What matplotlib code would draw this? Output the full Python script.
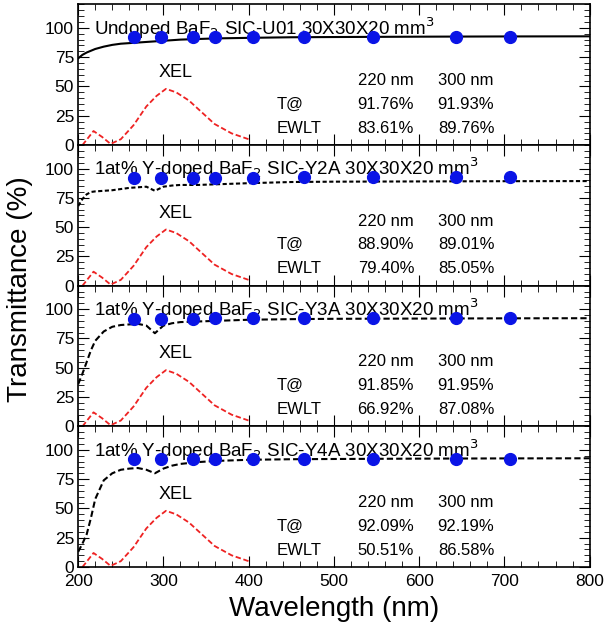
"""Transmittance of undoped and Y-doped BaF2 crystals with XEL spectrum."""

import matplotlib
matplotlib.use("Agg")

import matplotlib.pyplot as plt
from matplotlib.ticker import MultipleLocator

plt.rcParams["font.family"] = ["Liberation Sans", "DejaVu Sans"]

# longitudinal transmittance curves (nm, %)
wl_curve = [200, 205, 210, 215, 220, 230, 240, 250, 260, 270, 280, 290, 300,
            310, 320, 340, 360, 400, 450, 500, 600, 700, 800]
t_u01 = [74, 77, 79, 80.5, 82, 84, 85.5, 86.5, 87, 87.5, 88, 88.5, 89,
         89.5, 90, 90.5, 91, 91.5, 92, 92.2, 92.5, 92.7, 92.8]
t_y2a = [68, 74, 78, 80, 80.5, 81, 81.5, 82.5, 83.5, 84, 84.5, 81, 84.5,
         85.5, 86, 86, 86.5, 87.5, 88.5, 88.8, 89, 89.2, 89.3]
t_y3a = [36, 45, 55, 65, 73, 81, 85, 86.5, 87, 87.5, 86, 79.5, 86,
         88, 89, 89.5, 90, 91, 91.5, 91.8, 92, 92.2, 92.3]
t_y4a = [13, 20, 28, 42, 58, 74, 80, 83, 84, 84.5, 83, 80, 84,
         86.5, 88, 89.5, 90.5, 91.5, 92, 92.2, 92.5, 92.7, 92.8]

# discrete measurement points
wl_dots = [265, 297, 335, 360, 405, 465, 546, 643, 706]
d_u01 = [92, 92, 92, 92, 92, 92, 92, 92, 92]
d_y2a = [92, 92, 92, 92, 92, 92.5, 92.5, 92.5, 92.5]
d_y3a = [92, 92, 92, 92.5, 92.5, 92.5, 92.5, 92.5, 92.5]
d_y4a = [92, 92, 92, 92.5, 92.5, 92.5, 92.5, 92.5, 92.5]

# x-ray excited luminescence (arb.)
wl_xel = [205, 218, 228, 238, 250, 265, 280, 292, 303, 315, 330, 345, 360, 380, 400]
xel = [0, 12, 7, 1, 5, 17, 33, 42, 48, 45, 38, 28, 18, 10, 5]

labels = [
    "Undoped BaF$_2$ SIC-U01 30X30X20 mm$^3$",
    "1at% Y-doped BaF$_2$ SIC-Y2A 30X30X20 mm$^3$",
    "1at% Y-doped BaF$_2$ SIC-Y3A 30X30X20 mm$^3$",
    "1at% Y-doped BaF$_2$ SIC-Y4A 30X30X20 mm$^3$",
]
t_at = [("91.76%", "91.93%"), ("88.90%", "89.01%"),
        ("91.85%", "91.95%"), ("92.09%", "92.19%")]
ewlt = [("83.61%", "89.76%"), ("79.40%", "85.05%"),
        ("66.92%", "87.08%"), ("50.51%", "86.58%")]

curves = [t_u01, t_y2a, t_y3a, t_y4a]
dots = [d_u01, d_y2a, d_y3a, d_y4a]
styles = ["-", (0, (2, 1.2)), (0, (3, 1.5)), (0, (3, 1.5))]

fig, axes = plt.subplots(4, 1, sharex=True, figsize=(6.06, 6.35), dpi=100)
fig.subplots_adjust(left=0.129, right=0.973, bottom=0.107, top=0.993, hspace=0)

for i, ax in enumerate(axes):
    ax.plot(wl_curve, curves[i], color="black", linestyle=styles[i], linewidth=1.5)
    ax.plot(wl_xel, xel, color="#ee2222", linestyle=(0, (3, 1.5)), linewidth=1.3)
    ax.plot(wl_dots, dots[i], "o", color="#0a14e6", markersize=8.5, zorder=5)

    ax.text(218, 100, labels[i], fontsize=13.5, va="center", ha="left")
    ax.text(314, 62, "XEL", fontsize=13, ha="center", va="center")
    ax.text(561, 55, "220 nm", fontsize=12, ha="center", va="center")
    ax.text(655, 55, "300 nm", fontsize=12, ha="center", va="center")
    ax.text(433, 35, "T@", fontsize=12, ha="left", va="center")
    ax.text(561, 35, t_at[i][0], fontsize=12, ha="center", va="center")
    ax.text(655, 35, t_at[i][1], fontsize=12, ha="center", va="center")
    ax.text(433, 14.5, "EWLT", fontsize=12, ha="left", va="center")
    ax.text(561, 14.5, ewlt[i][0], fontsize=12, ha="center", va="center")
    ax.text(655, 14.5, ewlt[i][1], fontsize=12, ha="center", va="center")

    ax.set_xlim(200, 800)
    ax.set_ylim(0, 120)
    ax.set_yticks([0, 25, 50, 75, 100])
    ax.yaxis.set_minor_locator(MultipleLocator(5))
    ax.xaxis.set_major_locator(MultipleLocator(100))
    ax.xaxis.set_minor_locator(MultipleLocator(20))
    ax.tick_params(which="both", direction="in", top=True, right=True,
                   labelsize=12.5, pad=3)
    ax.tick_params(axis="x", pad=5)
    ax.tick_params(which="major", length=8)
    ax.tick_params(which="minor", length=4)
    for s in ax.spines.values():
        s.set_linewidth(1.2)

axes[-1].set_xlabel("Wavelength (nm)", fontsize=20, labelpad=5)
fig.text(0.033, 0.545, "Transmittance (%)", rotation=90, fontsize=20,
         ha="center", va="center")

fig.savefig("out.png", dpi=100)
